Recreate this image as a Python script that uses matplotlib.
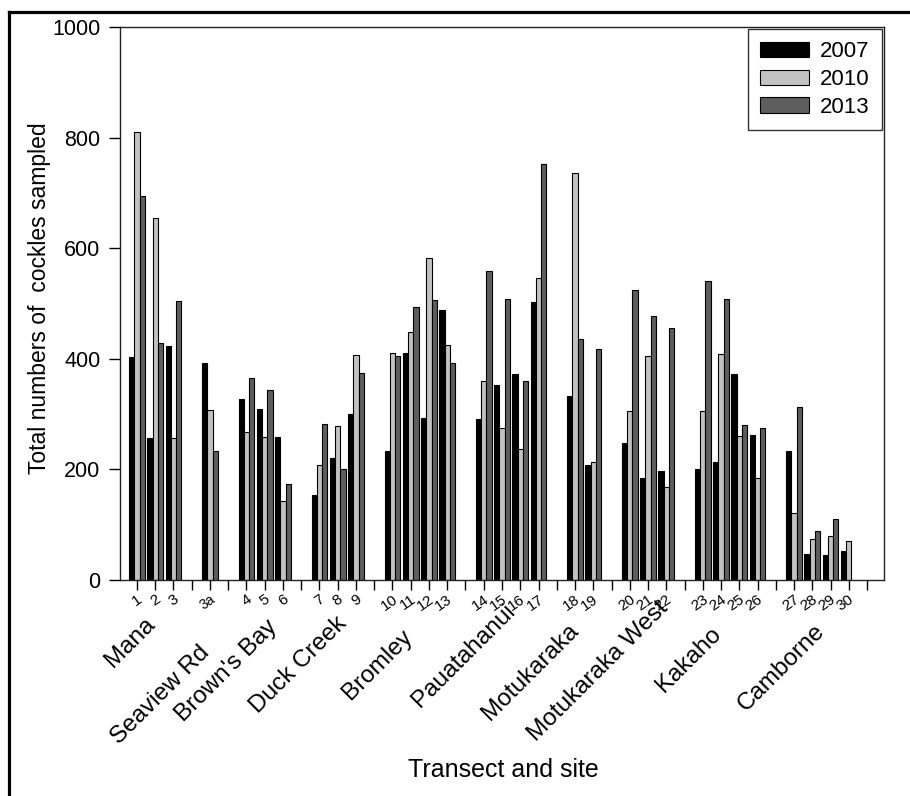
import numpy as np
import matplotlib
matplotlib.use("Agg")
import matplotlib.pyplot as plt
from matplotlib.lines import Line2D
from matplotlib.transforms import blended_transform_factory

plt.rcParams['font.family'] = ['Liberation Sans', 'DejaVu Sans']

# ---- data ----
locations = ["Mana", "Seaview Rd", "Brown's Bay", "Duck Creek", "Bromley",
             "Pauatahanui", "Motukaraka", "Motukaraka West", "Kakaho", "Camborne"]
sites_per_location = [
    ["1", "2", "3"], ["3a"], ["4", "5", "6"], ["7", "8", "9"],
    ["10", "11", "12", "13"], ["14", "15", "16", "17"], ["18", "19"],
    ["20", "21", "22"], ["23", "24", "25", "26"], ["27", "28", "29", "30"],
]
years = ["2007", "2010", "2013"]
v2007 = [404, 257, 423, 392, 328, 310, 259, 154, 221, 300, 233, 410, 293, 489,
         292, 352, 373, 502, 333, 208, 247, 185, 197, 201, 213, 373, 263,
         234, 47, 45, 53]
v2010 = [811, 655, 257, 308, 268, 259, 142, 208, 279, 406, 411, 449, 582, 425,
         360, 275, 236, 546, 736, 214, 306, 405, 168, 305, 409, 260, 184,
         122, 74, 80, 71]
v2013 = [694, 429, 504, 233, 366, 343, 174, 282, 200, 375, 405, 494, 507, 393,
         558, 509, 359, 752, 435, 417, 524, 477, 455, 541, 508, 281, 275,
         313, 89, 111, np.nan]

# ---- styling / positions ----
colors = ["#000000", "#c2c2c2", "#5e5e5e"]
# location label anchor: (x in data units, y pixels below axis)
loc_label_pos = [(1.35, 33), (4.35, 62), (8.05, 36), (11.9, 32), (15.5, 46),
                 (21.1, 20), (24.6, 40), (29.5, 17), (32.4, 43), (38.1, 40)]

# slot layout: one empty slot after each location group
site_labels, site_pos, tick_pos = [], [], []
slot = 1
for grp in sites_per_location:
    for s in grp:
        site_labels.append(s)
        site_pos.append(slot)
        tick_pos.append(slot)
        slot += 1
    tick_pos.append(slot)
    slot += 1
site_pos = np.array(site_pos, dtype=float)

W, H, DPI = 910, 796, 100
fig = plt.figure(figsize=(W / DPI, H / DPI), dpi=DPI)
ax_l, ax_r, ax_t, ax_b = 120, 884, 27, 580
ax = fig.add_axes([ax_l / W, (H - ax_b) / H, (ax_r - ax_l) / W, (ax_b - ax_t) / H])

bw = 0.29
for i, (vals, c, y) in enumerate(zip([v2007, v2010, v2013], colors, years)):
    ax.bar(site_pos + (i - 1) * bw, vals, width=bw, color=c, edgecolor="black",
           linewidth=0.8, label=y)

ax.set_xlim(0.07, 41.93)
ax.set_ylim(0, 1000)
ax.set_yticks(np.arange(0, 1001, 200))
ax.set_xticks(tick_pos)
ax.set_xticklabels([])
for sp in ax.spines.values():
    sp.set_linewidth(1.0)
    sp.set_color("#222222")
ax.tick_params(axis="y", direction="out", length=8, width=1, labelsize=15.5, pad=6)
ax.tick_params(axis="x", direction="out", length=7, width=1)

# site tick labels (rotated small numbers)
xform = blended_transform_factory(ax.transData, ax.transAxes)
for lab, p in zip(site_labels, site_pos):
    ax.text(p - 0.02, -0.022, lab, transform=xform, rotation=35, ha="right", va="top",
            rotation_mode="anchor", fontsize=11 if lab != "3a" else 10)

# location labels
for name, (px, py) in zip(locations, loc_label_pos):
    ax.text(px, -py / (ax_b - ax_t), name, transform=xform, rotation=45, ha="right",
            va="top", rotation_mode="anchor", fontsize=17.5)

fig.text(503 / W, 1 - 770 / H, "Transect and site", ha="center", va="center", fontsize=18)
fig.text(40 / W, 1 - 298 / H, "Total numbers of  cockles sampled", ha="center",
         va="center", rotation=90, fontsize=16.5)

leg = ax.legend(loc="upper right", bbox_to_anchor=(1, 1), borderaxespad=0.1,
                fontsize=16, handlelength=2.2, handleheight=0.7, handletextpad=0.5,
                labelspacing=0.3, borderpad=0.55, fancybox=False, frameon=True)
leg.get_frame().set_edgecolor("black")
leg.get_frame().set_linewidth(1.0)

# outer frame (top and left)
fig.add_artist(Line2D([9 / W, 9 / W], [0, 1 - 11.5 / H], transform=fig.transFigure,
                      color="black", linewidth=2.3))
fig.add_artist(Line2D([9 / W, 1], [1 - 11.5 / H, 1 - 11.5 / H], transform=fig.transFigure,
                      color="black", linewidth=2.3))

fig.savefig("out.png", dpi=DPI)
